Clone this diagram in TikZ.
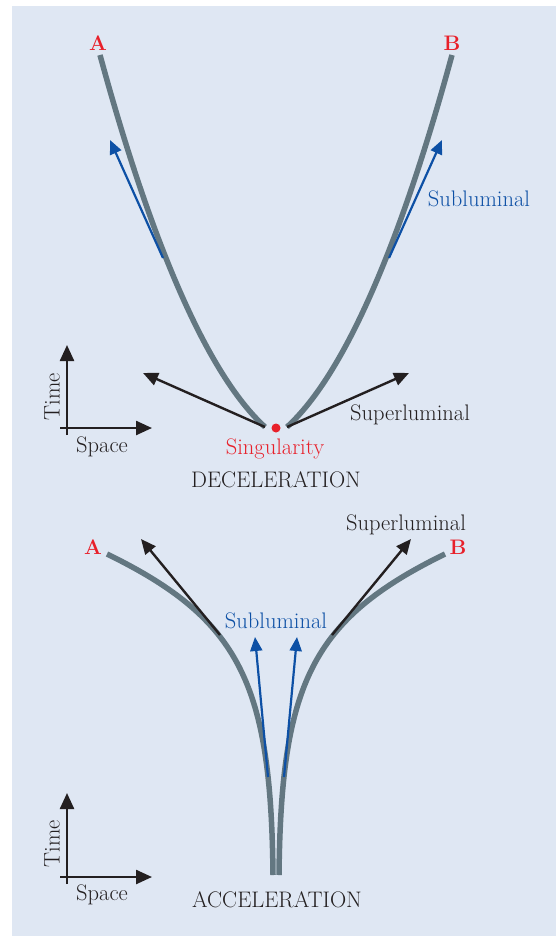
\documentclass[tikz,border=0pt]{standalone}
\usepackage{fontspec}
\usepackage{tikz}
\usetikzlibrary{arrows.meta}
\definecolor{bgblue}{RGB}{223,231,243}
\definecolor{linegray}{RGB}{99,119,129}
\definecolor{subblue}{RGB}{13,80,165}
\definecolor{singred}{RGB}{232,32,42}
\definecolor{inkblack}{RGB}{35,31,32}

\begin{document}
\begin{tikzpicture}[x=1pt,y=-1pt,>={Triangle[length=15pt,width=13pt]},
    font=\fontsize{22.5}{26}\selectfont,text=inkblack]
  \tikzstyle{worldline}=[draw=linegray,line width=5.5pt]
  \tikzstyle{sub}=[->,draw=subblue,line width=2.2pt,>={Triangle[length=14pt,width=12pt]}]
  \tikzstyle{super}=[->,draw=inkblack,line width=2.4pt]
  \tikzstyle{axis}=[->,draw=inkblack,line width=2.4pt,>={Triangle[length=16pt,width=14pt]}]
  \tikzstyle{endpt}=[text=singred,font=\fontsize{21}{24}\selectfont\bfseries]

  \useasboundingbox (0,0) rectangle (556,936);
  \fill[bgblue] (12,6) rectangle (556,936);

  % Deceleration: points and labels
  \node[endpt] (A1) at (98,43) {A};
  \node[endpt] (B1) at (452,43) {B};
  \node[circle,fill=singred,inner sep=0pt,minimum size=9pt] (sing) at (276,428) {};
  \coordinate (a1) at (100,55);
  \coordinate (l1) at (265,427);
  \coordinate (b1) at (452,55);
  \coordinate (r1) at (287,427);
  \coordinate (sl1) at (163,258);
  \coordinate (sl2) at (110,140);
  \coordinate (sr1) at (389,258);
  \coordinate (sr2) at (442,140);
  \coordinate (pl) at (143,373);
  \coordinate (pr) at (409,373);

  % Deceleration: world lines and arrows
  \draw[worldline] (a1) .. controls (140,202) and (197,365) .. (l1);
  \draw[worldline] (b1) .. controls (412,202) and (355,365) .. (r1);
  \draw[sub] (sl1) -- (sl2);
  \draw[sub] (sr1) -- (sr2);
  \draw[super] (l1) -- (pl);
  \draw[super] (r1) -- (pr);
  \node[text=subblue] (sub1) at (479,199) {Subluminal};
  \node (sup1) at (410,415) {Superluminal};
  \node[text=singred] (singlbl) at (275,449) {Singularity};
  \node (dec) at (276,480) {DECELERATION};

  % Deceleration: axes
  \coordinate (ty0) at (67,435);
  \coordinate (ty1) at (67,345);
  \coordinate (tx0) at (60,428);
  \coordinate (tx1) at (152,428);
  \draw[axis] (ty0) -- (ty1);
  \draw[axis] (tx0) -- (tx1);
  \node[rotate=90] (time1) at (52,397) {Time};
  \node (space1) at (102,447) {Space};

  % Acceleration: points and labels
  \node[endpt] (A2) at (93,547) {A};
  \node[endpt] (B2) at (458,547) {B};
  \coordinate (a2) at (107,554);
  \coordinate (l2) at (273,875);
  \coordinate (b2) at (445,554);
  \coordinate (r2) at (279,875);
  \coordinate (ql1) at (268,777);
  \coordinate (ql2) at (255,637);
  \coordinate (qr1) at (284,777);
  \coordinate (qr2) at (297,637);
  \coordinate (ul1) at (220,635);
  \coordinate (ul2) at (141,539);
  \coordinate (ur1) at (332,635);
  \coordinate (ur2) at (411,539);

  % Acceleration: world lines and arrows
  \draw[worldline] (a2) .. controls (240,619) and (271,683) .. (l2);
  \draw[worldline] (b2) .. controls (312,619) and (281,683) .. (r2);
  \draw[sub] (ql1) -- (ql2);
  \draw[sub] (qr1) -- (qr2);
  \draw[super] (ul1) -- (ul2);
  \draw[super] (ur1) -- (ur2);
  \node (sup2) at (406,525) {Superluminal};
  \node[text=subblue] (sub2) at (276,621) {Subluminal};
  \node (acc) at (277,900) {ACCELERATION};

  % Acceleration: axes
  \coordinate (uy0) at (67,884);
  \coordinate (uy1) at (67,793);
  \coordinate (ux0) at (60,877);
  \coordinate (ux1) at (152,877);
  \draw[axis] (uy0) -- (uy1);
  \draw[axis] (ux0) -- (ux1);
  \node[rotate=90] (time2) at (52,844) {Time};
  \node (space2) at (102,895) {Space};
\end{tikzpicture}
\end{document}
